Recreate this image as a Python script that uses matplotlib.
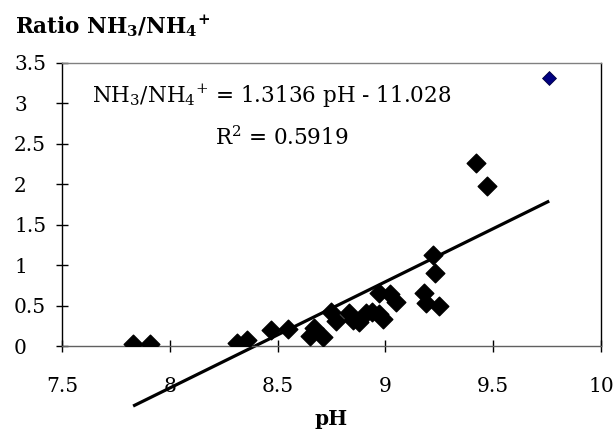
import matplotlib
matplotlib.use("Agg")
import matplotlib.pyplot as plt
import numpy as np

plt.rcParams['font.family'] = ['DejaVu Serif']
plt.rcParams['mathtext.fontset'] = 'dejavuserif'

# Data
ph = [7.83, 7.91, 8.31, 8.36, 8.47, 8.55, 8.65, 8.67, 8.71, 8.75, 8.77, 8.83,
      8.85, 8.88, 8.91, 8.94, 8.97, 8.99, 8.97, 9.02, 9.05, 9.18, 9.19, 9.25,
      9.22, 9.23, 9.42, 9.47]
ratio = [0.02, 0.02, 0.04, 0.07, 0.20, 0.21, 0.12, 0.22, 0.11, 0.42, 0.31, 0.41,
         0.32, 0.30, 0.41, 0.42, 0.40, 0.34, 0.65, 0.64, 0.55, 0.65, 0.53, 0.50,
         1.12, 0.90, 2.26, 1.98]
ph_highlight = [9.76]
ratio_highlight = [3.32]

slope = 1.3136
intercept = -11.028

x_ticks = [7.5, 8, 8.5, 9, 9.5, 10]
x_labels = ["7.5", "8", "8.5", "9", "9.5", "10"]
y_ticks = [0, 0.5, 1, 1.5, 2, 2.5, 3, 3.5]
y_labels = ["0", "0.5", "1", "1.5", "2", "2.5", "3", "3.5"]

fig = plt.figure(figsize=(6.16, 4.30), dpi=100)
ax = fig.add_axes([0.1006, 0.1953, 0.8750, 0.6582])

ax.scatter(ph, ratio, marker='D', s=90, color='black', zorder=3)
ax.scatter(ph_highlight, ratio_highlight, marker='D', s=50, color='#000080',
           edgecolor='#000040', linewidth=0.6, zorder=3)

all_ph = ph + ph_highlight
xl = np.array([min(all_ph), max(all_ph)])
ax.plot(xl, slope * xl + intercept, color='black', linewidth=2.3,
        clip_on=False, zorder=2, solid_capstyle='butt')

ax.set_xlim(7.5, 10)
ax.set_ylim(0, 3.5)
ax.set_xticks(x_ticks)
ax.set_xticklabels(x_labels)
ax.set_yticks(y_ticks)
ax.set_yticklabels(y_labels)

ax.tick_params(axis='both', direction='inout', length=9, width=1.0,
               labelsize=14.5, colors='black')
ax.tick_params(axis='x', pad=18)
ax.tick_params(axis='y', pad=30)
for lab in ax.get_yticklabels():
    lab.set_horizontalalignment('left')

ax.spines['left'].set_color('black')
ax.spines['right'].set_color('black')
ax.spines['top'].set_color('#808080')
ax.spines['bottom'].set_color('#606060')
for s in ax.spines.values():
    s.set_linewidth(1.0)

ax.set_xlabel('pH', fontsize=14.5, fontweight='bold', labelpad=9)

fig.text(0.024, 1 - 33 / 430, r'Ratio NH$_\mathbf{3}$/NH$_\mathbf{4}{}^\mathbf{+}$',
         fontsize=15.5, fontweight='bold', ha='left', va='baseline')

ax.text(0.056, 0.859, r'NH$_3$/NH$_4{}^{+}$ = 1.3136 pH - 11.028',
        transform=ax.transAxes, fontsize=15.5, ha='left', va='baseline')
ax.text(0.408, 0.710, r'R$^2$ = 0.5919', transform=ax.transAxes,
        fontsize=15.5, ha='center', va='baseline')

fig.savefig('out.png', dpi=100)
